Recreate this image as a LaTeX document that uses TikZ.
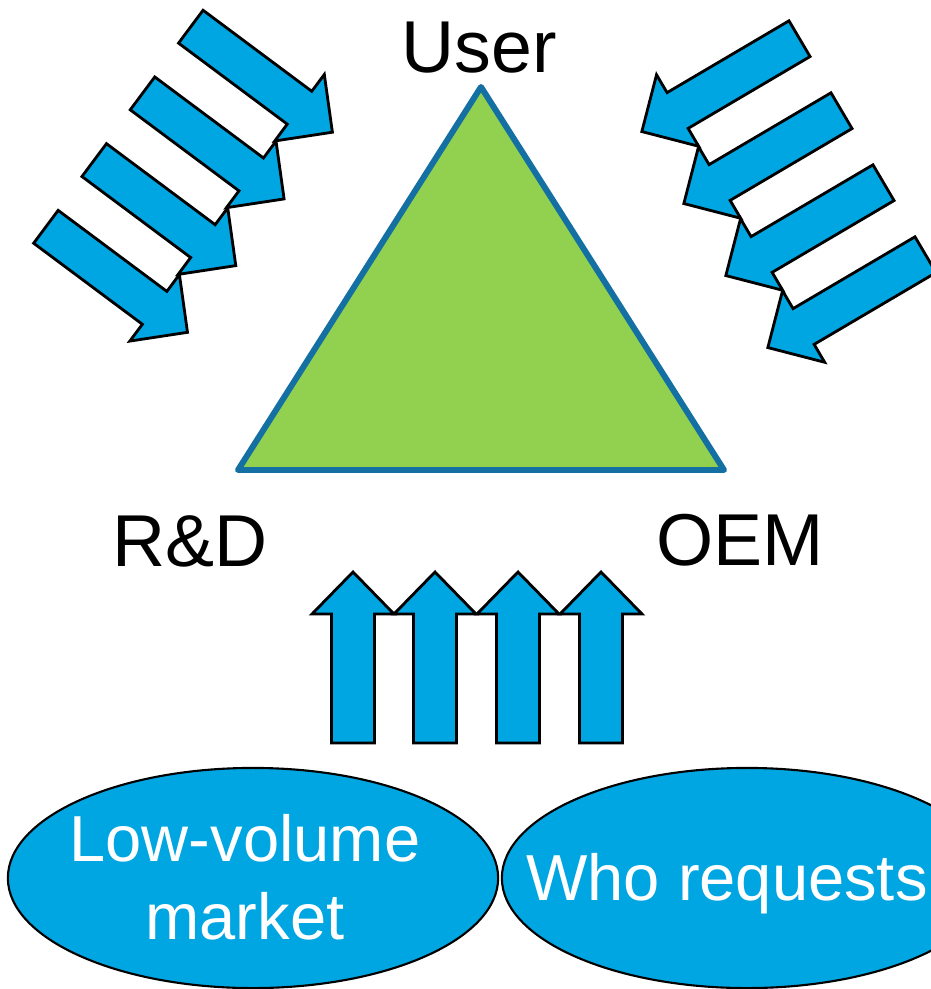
\documentclass[tikz,border=0pt]{standalone}
\usepackage{fontspec}
\setmainfont{Liberation Sans}
\usepackage{tikz}
\usetikzlibrary{shapes.geometric}

\definecolor{arrowblue}{RGB}{0,166,226}
\definecolor{trigreen}{RGB}{146,208,80}
\definecolor{triedge}{RGB}{20,112,162}

\tikzset{
  blockarrow/.style={fill=arrowblue, draw=black, line width=0.8pt, line join=miter},
  bigtext/.style={font=\fontsize{20.9}{24}\selectfont, anchor=base},
  bubble/.style={ellipse, fill=arrowblue, draw=black, line width=0.6pt,
    minimum width=4.9cm, minimum height=2.2cm},
  bubbletext/.style={text=white, font=\fontsize{18.5}{22.2}\selectfont, align=center}
}

% block arrow along +x: #1 length, #2 shaft width, #3 head width, #4 head length
\newcommand{\fatarrow}[4]{%
  \draw[blockarrow] (0,-#2/2) -- (#1-#4,-#2/2) -- (#1-#4,-#3/2) -- (#1,0)
    -- (#1-#4,#3/2) -- (#1-#4,#2/2) -- (0,#2/2) -- cycle;}

\begin{document}
\begin{tikzpicture}[x=0.01cm,y=-0.01cm]
\useasboundingbox (0,0) rectangle (930,989);

% the triangle
\draw [fill=trigreen, draw=triedge, line width=1.7pt, line join=round]
  (481,87) -- (724,470) -- (238,470) -- cycle;
\node [bigtext] (user) at (479,73) {User};
\node [bigtext] (rd) at (190,566) {R\&D};
\node [bigtext] (oem) at (740,565) {OEM};

% arrows coming in from the upper left
\begin{scope}[shift={(190.8,26.7)}, rotate=-36.7]
\fatarrow{176.6}{41}{83}{41}
\end{scope}
\begin{scope}[shift={(142.5,93.4)}, rotate=-36.7]
\fatarrow{176.6}{41}{83}{41}
\end{scope}
\begin{scope}[shift={(94.2,160.1)}, rotate=-36.7]
\fatarrow{176.6}{41}{83}{41}
\end{scope}
\begin{scope}[shift={(45.9,226.8)}, rotate=-36.7]
\fatarrow{176.6}{41}{83}{41}
\end{scope}

% arrows coming in from the upper right
\begin{scope}[shift={(799.5,38.7)}, rotate=210.5]
\fatarrow{183}{41.5}{83}{41.5}
\end{scope}
\begin{scope}[shift={(841.5,110.7)}, rotate=210.5]
\fatarrow{183}{41.5}{83}{41.5}
\end{scope}
\begin{scope}[shift={(883.5,182.7)}, rotate=210.5]
\fatarrow{183}{41.5}{83}{41.5}
\end{scope}
\begin{scope}[shift={(925.5,254.7)}, rotate=210.5]
\fatarrow{183}{41.5}{83}{41.5}
\end{scope}

% arrows pushing up from below
\begin{scope}[shift={(353,743)}, rotate=90]
\fatarrow{171}{43}{82}{42}
\end{scope}
\begin{scope}[shift={(435,743)}, rotate=90]
\fatarrow{171}{43}{82}{42}
\end{scope}
\begin{scope}[shift={(518,743)}, rotate=90]
\fatarrow{171}{43}{82}{42}
\end{scope}
\begin{scope}[shift={(601,743)}, rotate=90]
\fatarrow{171}{43}{82}{42}
\end{scope}

% the two bubbles
\node [bubble] (lowvol) at (253,878) {};
\node [bubble] (whoreq) at (747,878) {};
\node [bubbletext] (lowtext) at (245,877) {Low-volume\\market};
\node [bubbletext, anchor=base] (whotext) at (727,900) {Who requests};
\end{tikzpicture}
\end{document}
